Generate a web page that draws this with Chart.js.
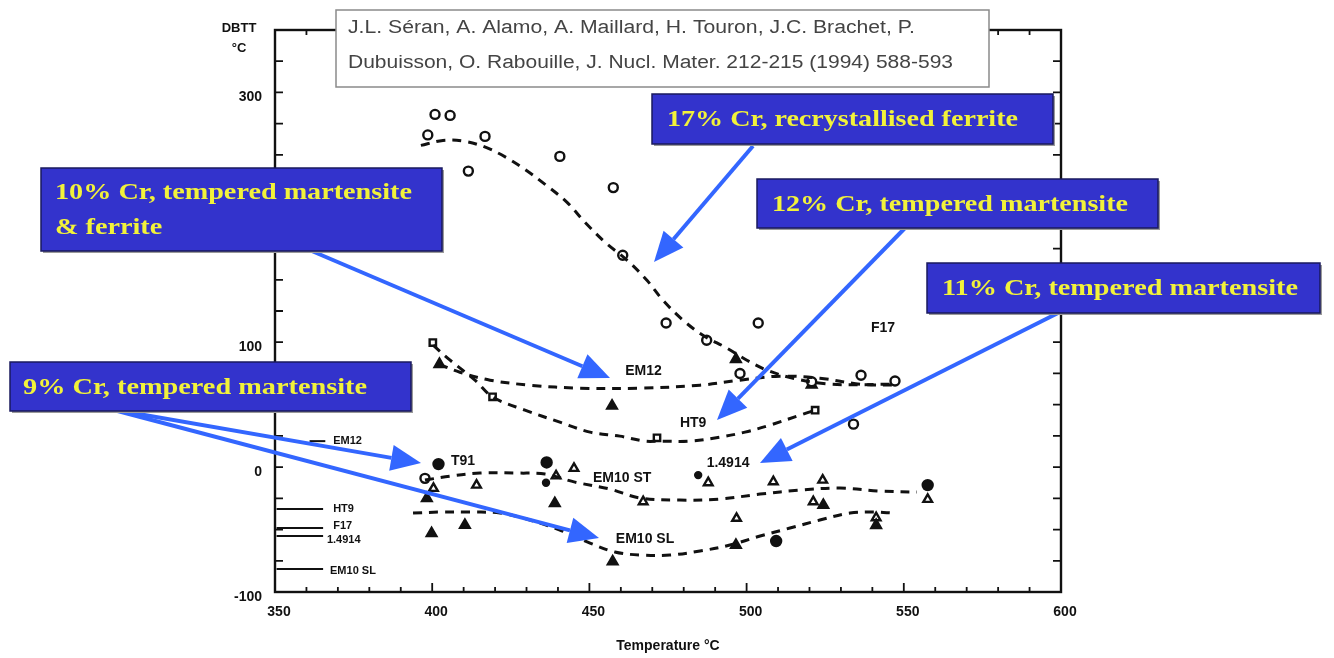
<!DOCTYPE html>
<html>
<head>
<meta charset="utf-8">
<script src="https://cdn.jsdelivr.net/npm/chart.js@4.4.1/dist/chart.umd.min.js"></script>
<style>
  body { margin: 0; background: #fff; }
  #wrap { width: 1334px; height: 658px; position: relative; }
</style>
</head>
<body>
<div id="wrap"><canvas id="dbttChart"></canvas></div>
<script>
// axis ranges and labelled ticks
const tempMin = 350, tempMax = 600;
const dbttMin = -100, dbttMax = 350;
const tempLabels = [350, 400, 450, 500, 550, 600];
const dbttLabels = [300, 100, 0, -100];

// dashed trend curves: temperature (°C) and DBTT (°C)
const f17T = [396.4, 403.4, 410.4, 417.1, 423.5, 429.5, 435.9, 442.9, 448.6, 455.0, 462.0, 468.3, 473.4, 479.8, 486.1, 493.8, 500.1, 506.5, 514.8, 526.5, 547.2];
const f17D = [257.6, 261.6, 260.8, 256.0, 248.0, 238.4, 226.4, 212.0, 196.0, 180.0, 165.6, 149.6, 133.6, 117.6, 105.6, 95.2, 85.6, 77.6, 71.2, 66.4, 66.4];
const em12T = [402.2, 408.8, 418.4, 431.1, 447.0, 466.1, 485.2, 497.9, 510.6, 523.3, 536.1, 547.2];
const em12D = [82.4, 76.0, 69.6, 65.6, 63.2, 63.2, 65.6, 69.6, 72.8, 71.2, 66.4, 65.6];
const ht9T = [400.3, 405.7, 413.6, 419.3, 429.5, 440.6, 450.2, 459.7, 467.7, 472.5, 482.0, 491.5, 499.5, 507.4, 517.0, 521.8];
const ht9D = [97.6, 85.6, 69.6, 56.0, 45.6, 36.0, 28.0, 24.8, 20.8, 20.8, 20.8, 24.0, 28.0, 33.6, 41.6, 45.6];
const em10stT = [397.7, 405.7, 415.2, 427.9, 435.9, 445.4, 456.6, 466.1, 478.8, 491.5, 504.3, 517.0, 529.7, 542.4, 554.2];
const em10stD = [-10.4, -7.2, -4.8, -4.8, -5.6, -12.0, -17.6, -24.8, -26.4, -25.6, -21.6, -18.4, -16.8, -19.2, -20.0];
const em10slT = [393.9, 402.5, 412.0, 421.6, 431.1, 440.6, 450.2, 458.1, 466.1, 475.6, 485.2, 494.7, 504.3, 513.8, 523.3, 532.9, 540.8, 546.6];
const em10slD = [-36.8, -36.0, -36.0, -36.8, -42.4, -50.4, -60.8, -68.0, -70.4, -70.4, -67.2, -62.4, -55.2, -48.8, -42.4, -36.8, -36.0, -36.8];

// measured points
const openCircleT = [400.9, 405.7, 398.6, 416.8, 411.5, 440.6, 457.6, 460.6, 474.4, 503.7, 487.3, 497.9, 520.7, 536.4, 547.2, 534.0, 397.7];
const openCircleD = [282.4, 281.6, 266.0, 264.8, 237.0, 248.8, 223.8, 169.6, 115.4, 115.4, 101.6, 75.0, 68.3, 73.6, 69.0, 34.4, -9.0];
const openSquareT = [400.2, 419.2, 471.5, 521.8];
const openSquareD = [99.7, 56.3, 23.5, 45.6];
const filledTriT = [402.3, 457.2, 496.6, 520.7, 398.3, 399.8, 410.4, 439.0, 457.4, 496.6, 524.4, 541.2];
const filledTriD = [82.4, 49.0, 86.4, 66.0, -25.0, -53.0, -46.4, -29.0, -75.7, -62.4, -30.4, -46.5];
const openTriT = [414.1, 439.4, 445.1, 400.4, 467.1, 487.8, 508.5, 524.2, 521.2, 496.8, 557.6, 541.2];
const openTriD = [-14.4, -7.0, -1.0, -17.0, -27.7, -12.5, -11.7, -10.4, -27.7, -41.0, -25.8, -40.5];
const filledCircleT = [402.0, 436.4, 509.4, 557.6];
const filledCircleD = [2.4, 3.7, -59.2, -14.4];
const smallDotT = [436.2, 484.6];
const smallDotD = [-12.5, -6.4];

// reference levels drawn at the left axis
const refNames = ['EM12', 'HT9', 'F17', '1.4914', 'EM10 SL'];
const refLevel = [20.8, -33.6, -48.8, -55.2, -81.6];
const refStart = [361.0, 350.5, 350.5, 350.5, 350.5];
const refEnd = [366.0, 365.3, 365.3, 365.3, 365.3];
const refLabelT = [368.5, 368.5, 368.5, 366.5, 367.5];
const refLabelD = [20.8, -33.6, -47.2, -58.4, -83.2];

// curve names written in the plot
const curveNames = ['F17', 'EM12', 'HT9', 'T91', 'EM10 ST', 'EM10 SL', '1.4914'];
const curveNameT = [543.4, 467.2, 483.0, 409.8, 460.4, 467.7, 494.1];
const curveNameD = [111.2, 76.8, 35.2, 4.8, -8.8, -57.6, 3.2];

function pts(xs, ys) {
    return xs.map((x, i) => ({ x: x, y: ys[i] }));
}

function dashed(xs, ys) {
    return {
        data: pts(xs, ys), showLine: true, borderColor: '#111', borderWidth: 3,
        borderDash: [9, 7], pointRadius: 0, tension: 0.35, fill: false
    };
}

function markers(xs, ys, style, radius, filled) {
    return {
        data: pts(xs, ys), showLine: false, pointStyle: style, pointRadius: radius,
        pointBorderColor: '#111', pointBackgroundColor: filled ? '#111' : '#fff', pointBorderWidth: 2.4
    };
}

let datasets = [
    dashed(f17T, f17D), dashed(em12T, em12D), dashed(ht9T, ht9D),
    dashed(em10stT, em10stD), dashed(em10slT, em10slD),
    markers(openCircleT, openCircleD, 'circle', 4.5, false),
    markers(openSquareT, openSquareD, 'rect', 4.5, false),
    markers(filledTriT, filledTriD, 'triangle', 5.5, true),
    markers(openTriT, openTriD, 'triangle', 5, false),
    markers(filledCircleT, filledCircleD, 'circle', 5, true),
    markers(smallDotT, smallDotD, 'circle', 3, true)
];
refLevel.forEach((lvl, i) => {
    datasets.push({
        data: [{ x: refStart[i], y: lvl }, { x: refEnd[i], y: lvl }], showLine: true,
        borderColor: '#111', borderWidth: 2, pointRadius: 0, fill: false
    });
});

// annotation boxes (page layout, px)
const notes = [
    { x: 652, y: 94, w: 401, h: 50, lines: ['17% Cr, recrystallised ferrite'], tx: 667, tw: 351, ty: [120] },
    { x: 41, y: 168, w: 401, h: 83, lines: ['10% Cr, tempered martensite', '& ferrite'], tx: 55, tw: 357, ty: [193, 228] },
    { x: 757, y: 179, w: 401, h: 49, lines: ['12% Cr, tempered martensite'], tx: 772, tw: 356, ty: [205] },
    { x: 927, y: 263, w: 393, h: 50, lines: ['11% Cr, tempered martensite'], tx: 942, tw: 356, ty: [289] },
    { x: 10, y: 362, w: 401, h: 49, lines: ['9% Cr, tempered martensite'], tx: 23, tw: 344, ty: [388] }
];
const arrows = [
    [753, 146, 654, 262],
    [293, 243, 610, 378],
    [905, 228, 717, 420],
    [1060, 312, 760, 463],
    [110, 409, 421, 463],
    [110, 409, 599, 538]
];

function fitText(ctx, text, x, y, scaleX) {
    ctx.save();
    ctx.translate(x, y);
    ctx.scale(scaleX, 1);
    ctx.fillText(text, 0, 0);
    ctx.restore();
}

function drawArrow(ctx, x1, y1, x2, y2) {
    const ang = Math.atan2(y2 - y1, x2 - x1);
    const len = 30, half = 13;
    const bx = x2 - len * Math.cos(ang), by = y2 - len * Math.sin(ang);
    ctx.strokeStyle = '#3366ff';
    ctx.fillStyle = '#3366ff';
    ctx.lineWidth = 4;
    ctx.beginPath();
    ctx.moveTo(x1, y1);
    ctx.lineTo(bx, by);
    ctx.stroke();
    ctx.beginPath();
    ctx.moveTo(x2, y2);
    ctx.lineTo(bx + half * Math.sin(ang), by - half * Math.cos(ang));
    ctx.lineTo(bx - half * Math.sin(ang), by + half * Math.cos(ang));
    ctx.closePath();
    ctx.fill();
}

const decorPlugin = {
    id: 'decor',
    afterDatasetsDraw(chart) {
        const ctx = chart.ctx;
        const a = chart.chartArea;
        const xs = chart.scales.x, ys = chart.scales.y;
        ctx.save();

        // frame with inward ticks
        ctx.strokeStyle = '#111';
        ctx.lineWidth = 2.4;
        ctx.strokeRect(a.left, a.top, a.right - a.left, a.bottom - a.top);
        ctx.lineWidth = 1.8;
        ctx.beginPath();
        for (let v = tempMin; v <= tempMax; v += 10) {
            const px = xs.getPixelForValue(v);
            const len = v % 50 === 0 ? 9 : 5;
            ctx.moveTo(px, a.bottom); ctx.lineTo(px, a.bottom - len);
            ctx.moveTo(px, a.top); ctx.lineTo(px, a.top + len);
        }
        for (let v = dbttMin; v <= dbttMax; v += 25) {
            const py = ys.getPixelForValue(v);
            ctx.moveTo(a.left, py); ctx.lineTo(a.left + 8, py);
            ctx.moveTo(a.right, py); ctx.lineTo(a.right - 8, py);
        }
        ctx.stroke();

        // y title
        ctx.fillStyle = '#111';
        ctx.textAlign = 'center';
        ctx.textBaseline = 'middle';
        ctx.font = 'bold 13px "Liberation Sans", Arial, sans-serif';
        ctx.fillText('DBTT', a.left - 36, 28);
        ctx.fillText('°C', a.left - 36, 48);

        // curve names and reference labels
        ctx.font = 'bold 14px "Liberation Sans", Arial, sans-serif';
        curveNames.forEach((t, i) => {
            ctx.fillText(t, xs.getPixelForValue(curveNameT[i]), ys.getPixelForValue(curveNameD[i]));
        });
        ctx.font = 'bold 11px "Liberation Sans", Arial, sans-serif';
        ctx.textAlign = 'left';
        refNames.forEach((t, i) => {
            ctx.fillText(t, xs.getPixelForValue(refLabelT[i]), ys.getPixelForValue(refLabelD[i]));
        });

        // blue arrows
        arrows.forEach(r => drawArrow(ctx, r[0], r[1], r[2], r[3]));

        // annotation boxes
        ctx.font = 'bold 24px "Liberation Serif", "Times New Roman", serif';
        notes.forEach(n => {
            ctx.fillStyle = '#9a9a9a';
            ctx.fillRect(n.x + 2, n.y + 2, n.w, n.h);
            ctx.fillStyle = '#3333cc';
            ctx.fillRect(n.x, n.y, n.w, n.h);
            ctx.strokeStyle = '#1a1a5e';
            ctx.lineWidth = 1.5;
            ctx.strokeRect(n.x, n.y, n.w, n.h);
            ctx.fillStyle = '#f2f23a';
            const sx = n.tw / ctx.measureText(n.lines[0]).width;
            n.lines.forEach((l, i) => fitText(ctx, l, n.tx, n.ty[i], sx));
        });

        // citation box
        ctx.fillStyle = '#fff';
        ctx.fillRect(336, 10, 653, 77);
        ctx.strokeStyle = '#8a8a8a';
        ctx.lineWidth = 1.5;
        ctx.strokeRect(336, 10, 653, 77);
        ctx.fillStyle = '#444';
        ctx.font = '18px "Liberation Sans", Arial, sans-serif';
        const cite1 = 'J.L. Séran, A. Alamo, A. Maillard, H. Touron, J.C. Brachet, P.';
        const cite2 = 'Dubuisson, O. Rabouille, J. Nucl. Mater. 212-215 (1994) 588-593';
        fitText(ctx, cite1, 348, 28, 567 / ctx.measureText(cite1).width);
        fitText(ctx, cite2, 348, 63, 605 / ctx.measureText(cite2).width);
        ctx.restore();
    }
};

new Chart('dbttChart', {
    type: 'scatter',
    data: { datasets: datasets },
    plugins: [decorPlugin],
    options: {
        responsive: true,
        maintainAspectRatio: false,
        animation: false,
        layout: { padding: { top: 30, right: 273, left: 0, bottom: 0 } },
        plugins: { legend: { display: false }, tooltip: { enabled: false } },
        scales: {
            x: {
                type: 'linear', min: tempMin, max: tempMax,
                grid: { display: false, drawTicks: false },
                border: { display: false },
                afterFit: (scale) => { scale.height = 66; },
                ticks: {
                    stepSize: 10, autoSkip: false, maxRotation: 0, padding: 12, labelOffset: 4, color: '#111',
                    font: { family: '"Liberation Sans", Arial, sans-serif', size: 14, weight: 'bold' },
                    callback: (v) => tempLabels.includes(v) ? String(v) : ''
                },
                title: {
                    display: true, text: 'Temperature °C', color: '#111',
                    font: { family: '"Liberation Sans", Arial, sans-serif', size: 14, weight: 'bold' },
                    padding: { top: 0, bottom: 3 }
                }
            },
            y: {
                type: 'linear', min: dbttMin, max: dbttMax,
                grid: { display: false, drawTicks: false },
                border: { display: false },
                afterFit: (scale) => { scale.width = 275; },
                ticks: {
                    stepSize: 25, autoSkip: false, padding: 13, labelOffset: 5, color: '#111',
                    font: { family: '"Liberation Sans", Arial, sans-serif', size: 14, weight: 'bold' },
                    callback: (v) => dbttLabels.includes(v) ? String(v) : ''
                }
            }
        }
    }
});
</script>
</body>
</html>
